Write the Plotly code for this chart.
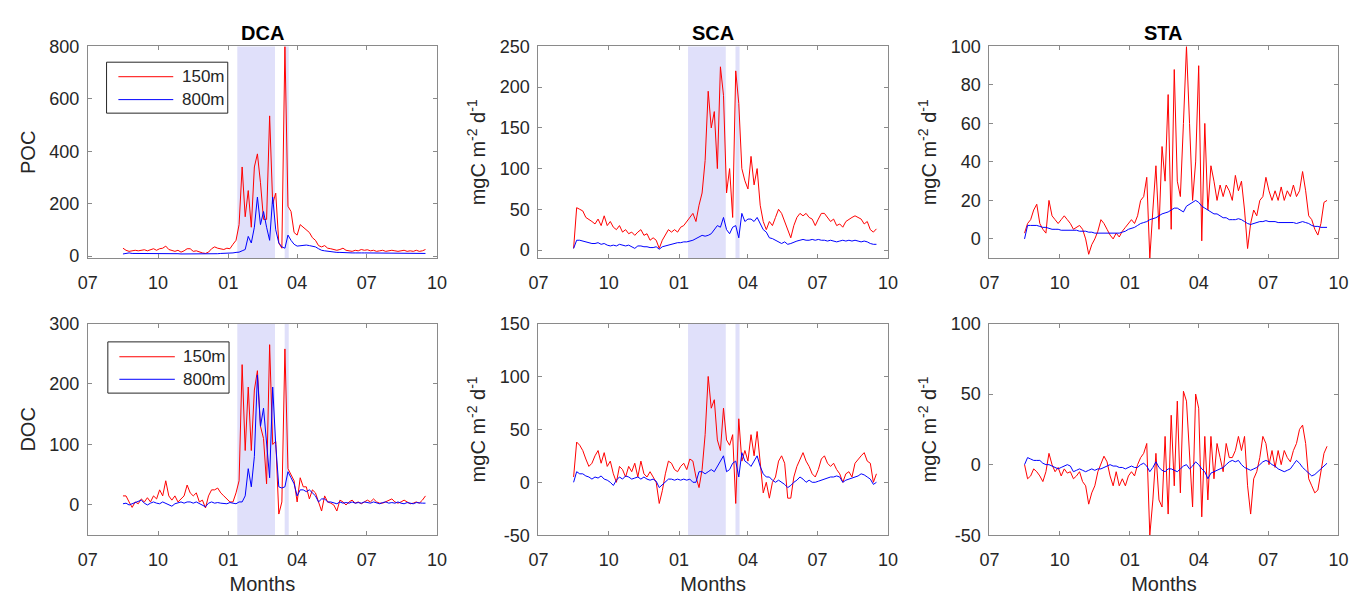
import pandas as pd
import plotly.graph_objects as go
from plotly.subplots import make_subplots

# Sampling dates (every 4 days, mid-August to mid-September of the following year)
dates = pd.date_range("2017-08-16", periods=100, freq="4D")
month_ticks = pd.date_range("2017-07-01", "2018-10-01", freq="3MS")
x_range = ["2017-07-01", "2018-10-01"]

# Shaded event windows
band_start = ["2018-01-12 16:00", "2018-03-15 16:00"]
band_end = ["2018-03-03", "2018-03-21"]

# ---- DCA ----
dca_poc_150 = [
    30, 22, 18, 20, 22, 20, 22, 24, 20, 25,
    28, 22, 28, 30, 38, 25, 20, 18, 22, 15,
    20, 28, 28, 18, 20, 15, 12, 10, 15, 28,
    35, 30, 28, 25, 30, 28, 45, 60, 120, 340,
    150, 250, 110, 340, 390, 280, 140, 140, 535, 200,
    240, 50, 30, 800, 190, 170, 90, 80, 120, 110,
    100, 90, 70, 60, 40, 35, 40, 30, 28, 25,
    22, 25, 30, 22, 20, 18, 22, 20, 25, 22,
    24, 20, 22, 18, 20, 22, 18, 20, 22, 20,
    18, 20, 22, 18, 20, 18, 22, 18, 20, 25,
]
dca_poc_800 = [
    8, 10, 12, 10, 10, 11, 10, 10, 9, 10,
    10, 10, 10, 9, 9, 10, 10, 9, 9, 8,
    8, 9, 9, 8, 8, 8, 8, 7, 8, 8,
    9, 9, 10, 10, 10, 11, 12, 14, 15, 20,
    25, 75, 50, 110, 225, 120, 170, 110, 60, 225,
    100, 50, 35, 30, 80, 60, 45, 38, 40, 40,
    42, 40, 38, 35, 28, 22, 20, 18, 16, 15,
    14, 14, 13, 13, 13, 12, 12, 13, 12, 12,
    12, 12, 11, 12, 11, 11, 12, 11, 11, 11,
    10, 11, 10, 10, 11, 10, 10, 10, 10, 10,
]
dca_doc_150 = [
    15, 15, 5, -4, 5, 2, 10, 5, 12, 5,
    15, 10, 25, 15, 40, 15, 8, 15, 5, 10,
    15, 33, 20, 15, 20, 5, 8, -5, 15, 25,
    25, 28, 20, 15, 10, 5, 5, 20, 40, 232,
    90, 195, 90, 190, 222, 130, 110, 35, 265, 100,
    105, -15, 5, 258, 60, 50, 40, 5, 45, 30,
    30, 10, 25, 20, 5, -10, 15, 5, 3, 0,
    -10, 8, 5, 0, 5, 8, 3, 5, 2, 5,
    8, 5, 10, 5, 3, 3, 5, 8, 10, 5,
    3, 5, 8, 5, 2, 3, 5, 3, 8, 15,
]
dca_doc_800 = [
    2, 3, 0, 2, 3, 5, 8, 3, 0, 3,
    5, 3, 2, 5, 3, 0, -2, 2, 3, 5,
    3, 5, 5, 3, 5, 2, 0, -3, 3, 5,
    3, 4, 3, 3, 2, 4, 3, 2, 5, 5,
    15, 60, 30, 80, 215, 130, 160, 100, 45, 195,
    100, 30, 28, 30, 55, 45, 35, 15, 25, 25,
    22, 25, 20, 15, 5, 10, 10, 5, 5, 3,
    2, 5, 3, 4, 3, 5, 3, 4, 3, 5,
    4, 3, 5, 3, 2, 4, 5, 3, 4, 3,
    5, 3, 2, 4, 3, 2, 4, 3, 3, 3,
]

# ---- SCA ----
sca_poc_150 = [
    2, 52, 50, 48, 40, 38, 35, 32, 38, 30,
    42, 30, 35, 28, 25, 30, 22, 25, 20, 22,
    18, 22, 25, 18, 20, 12, 15, 12, 2, 12,
    18, 25, 22, 25, 22, 28, 30, 35, 40, 45,
    35, 55, 70, 110, 195, 150, 170, 100, 225, 190,
    70, 100, 40, 220, 180, 100, 85, 75, 115, 80,
    100, 55, 35, 25, 35, 30, 40, 50, 45, 35,
    25, 15, 30, 40, 45, 42, 45, 40, 38, 30,
    38, 45, 45, 40, 35, 38, 30, 32, 28, 35,
    38, 40, 42, 40, 38, 32, 35, 25, 22, 26,
]
sca_poc_800 = [
    2, 12, 12, 11, 10, 9, 8, 8, 9, 7,
    8, 6, 5, 6, 5, 7, 6, 5, 6, 4,
    2, 5, 5, 4, 4, 3, 3, 4, 1, 4,
    5, 6, 7, 8, 9, 9, 10, 10, 11, 12,
    14, 16, 18, 17, 18, 20, 25, 30, 28, 40,
    25, 20, 28, 30, 15, 45, 35, 38, 38, 35,
    40, 32, 25, 22, 15, 14, 12, 10, 8, 10,
    7, 8, 10, 11, 12, 13, 12, 12, 13, 12,
    13, 12, 12, 11, 12, 11, 10, 11, 12, 11,
    12, 11, 12, 11, 10, 11, 10, 8, 7, 7,
]
sca_doc_150 = [
    5, 38, 35, 30, 22, 15, 18, 25, 30, 18,
    28, 15, 20, 8, 0, 15, 12, 5, 15, 10,
    18, 5, 20, 8, 5, 10, 5, 0, -20, -8,
    8, 20, 18, 12, 10, 15, 18, 12, 22, 20,
    5, -5, 12, 45, 100, 70, 78, 40, 30, 70,
    40, 35, 45, -20, 60, 20, 30, 20, 45, 25,
    48, 15, -10, 0, -15, 0, 5, 20, 25, 18,
    -15, -15, 5, 15, 22, 28, 20, 15, 8, 5,
    12, 22, 25, 18, 15, 18, 12, 8, 0, 8,
    10, 5, 18, 22, 25, 28, 20, 18, 0, 8,
]
sca_doc_800 = [
    0, 10, 8, 8, 6, 5, 3, 5, 4, 6,
    3, 2, 0, -3, 2, 5, 3, 6, 5, 3,
    4, 5, 3, 5, 3, 2, 3, 1, -5, -2,
    0, 3, 3, 2, 3, 2, 3, 2, 3, 0,
    0, 10, 10, 8, 10, 12, 10, 15, 20, 25,
    10, 12, 18, 20, 5, 28, 20, 18, 15, 20,
    25, 15, 8, 5, 5, 2, 0, 2, 0, -2,
    -5, -3, 0, 2, 5, 3, 0, 2, 0, 0,
    1, 2, 3, 4, 5, 5, 6, 5, 0, 2,
    3, 4, 5, 6, 8, 7, 5, 3, -2, 0,
]

# ---- STA ----
sta_poc_150 = [
    3, 8, 10, 15, 18, 8, 5, 3, 20, 12,
    10, 8, 10, 12, 10, 8, 5, 6, 7, 5,
    0, -8, -3, 0, 4, 10, 8, 5, 2, 0,
    3, 1, 4, 6, 8, 10, 8, 12, 20, 22,
    32, -10, 15, 38, 5, 48, 30, 75, 5, 88,
    30, 22, 60, 100, 60, 20, 40, 90, -1, 60,
    15, 38, 30, 20, 28, 22, 28, 25, 20, 33,
    25, 30, 15, -5, 8, 15, 12, 20, 22, 32,
    25, 20, 25, 20, 27, 20, 25, 22, 28, 22,
    25, 35, 25, 12, 10, 5, 2, 8, 19, 20,
]
sta_poc_800 = [
    0, 7, 7, 7, 7, 6.5, 6, 6, 5.5, 5,
    5, 5, 4.5, 4.5, 4.5, 4.5, 4.5, 4.5, 4, 4,
    4, 3.5, 3.5, 3, 3, 3, 3, 3, 3, 3,
    3, 3, 3.5, 4, 5, 5.5, 6, 7, 8, 8.5,
    9, 10, 10.5, 11, 12, 13, 13.5, 14, 15, 16,
    16, 15, 14, 17, 18, 19, 20, 19, 17, 16,
    15, 14, 13, 13, 12, 11, 11, 10, 10, 10,
    10.5, 10, 9, 8, 7.5, 8, 8.5, 9, 9, 9.5,
    9, 9, 9, 8.5, 8.5, 8.5, 8.5, 8.5, 8.5, 8,
    8.5, 9, 8.5, 8, 7, 6.5, 6.5, 6, 6, 6,
]
sta_doc_150 = [
    0, -10, -8, -3, -5, -8, -12, -5, 8, 0,
    -5, -2, -8, -3, -6, -5, -10, -8, -5, -12,
    -15, -28, -20, -15, -5, 0, 6, 2, -8, -15,
    -5, -15, -10, -15, -8, -5, -8, 0, 5, 8,
    15, -50, -25, 8, -25, -30, 20, -35, 35, -15,
    45, -20, 52, 45, 5, -30, 50, 40, -37, 20,
    -25, 20, -10, 15, 5, -5, 15, 5, 5, 10,
    20, 10, 20, -15, -35, -10, -5, 5, 20, 15,
    0, 10, -2, 10, 0, 10, 5, 2, 10, 15,
    25, 28, 15, -10, -15, -20, -18, -5, 8, 13,
]
sta_doc_800 = [
    0, 5, 4, 3, 3, 3, 1, 0, 0, -1,
    -2, -3, -2, -1, 0, -1, -5, -4, -3, -4,
    -5, -4, -3, -4, -3, -3, -2, -1, 0, -1,
    -1, -2, -2, -3, -2, -1, -2, -2, 0, 1,
    -1, -5, -2, 2, -2, -4, -5, -3, -3, -4,
    -5, -3, -1, 0, -3, -1, 2, 0, -3, -5,
    -10, -6, -5, -4, -3, -2, 0, 2, 3, 2,
    3, 0, -2, -3, -4, -3, -2, 0, 2, 3,
    2, 0, -1, -3, -4, -5, -4, -3, 0, 3,
    1, -2, -4, -6, -8, -7, -5, -3, -1, 1,
]

panel_titles = ["DCA", "SCA", "STA"]
row_labels = ["POC", "DOC"]
flux_unit = "mgC m<sup>-2</sup> d<sup>-1</sup>"
depth_names = ["150m", "800m"]
line_colors = ["#ff0000", "#0000ff"]

series = {
    (1, 1): (dca_poc_150, dca_poc_800),
    (1, 2): (sca_poc_150, sca_poc_800),
    (1, 3): (sta_poc_150, sta_poc_800),
    (2, 1): (dca_doc_150, dca_doc_800),
    (2, 2): (sca_doc_150, sca_doc_800),
    (2, 3): (sta_doc_150, sta_doc_800),
}
y_ranges = {
    (1, 1): [-8, 800], (1, 2): [-10, 250], (1, 3): [-10, 100],
    (2, 1): [-50, 300], (2, 2): [-50, 150], (2, 3): [-50, 100],
}
y_ticks = {
    (1, 1): [0, 200, 400, 600, 800],
    (1, 2): [0, 50, 100, 150, 200, 250],
    (1, 3): [0, 20, 40, 60, 80, 100],
    (2, 1): [0, 100, 200, 300],
    (2, 2): [-50, 0, 50, 100, 150],
    (2, 3): [-50, 0, 50, 100],
}
shaded_cols = [1, 2]

# ---- page geometry (pixels) ----
FIG_W, FIG_H = 1361, 601


def px_x(x):
    return x / FIG_W


def px_y(y):
    return 1 - y / FIG_H


col_px = [(79, 433.3), (536.3, 891), (994, 1348.3)]
row_px = [(37.7, 256.7), (324.3, 543.3)]
col_domains = [[px_x(a), px_x(b)] for a, b in col_px]
row_domains = [[px_y(b), px_y(a)] for a, b in row_px]

FONT = "Liberation Sans, Arial, Helvetica, sans-serif"
TEXT = "#262626"
FRAME = "#8a8a8a"

fig = make_subplots(rows=2, cols=3)

for (r, c), (s150, s800) in series.items():
    for name, vals, color in zip(depth_names, (s150, s800), line_colors):
        fig.add_trace(
            go.Scatter(x=dates, y=vals, mode="lines", name=name,
                       line=dict(color=color, width=1), showlegend=False),
            row=r, col=c,
        )
    if c in shaded_cols:
        for x0, x1 in zip(band_start, band_end):
            fig.add_vrect(x0=x0, x1=x1, fillcolor="rgb(224,224,250)", opacity=1,
                          line_width=0, layer="below", row=r, col=c)

    ticks = y_ticks[(r, c)]
    ytitle = row_labels[r - 1] if c == 1 else flux_unit
    fig.update_yaxes(
        range=y_ranges[(r, c)], tickmode="array", tickvals=ticks,
        ticktext=[str(t) for t in ticks], domain=row_domains[r - 1],
        showline=True, linecolor=FRAME, linewidth=1, mirror="ticks",
        ticks="inside", ticklen=4, tickcolor=FRAME, showgrid=False, zeroline=False,
        tickfont=dict(size=18, color=TEXT, family=FONT),
        ticklabelstandoff=4,
        title=dict(text=ytitle, font=dict(size=20, color=TEXT, family=FONT), standoff=8),
        row=r, col=c,
    )
    fig.update_xaxes(
        type="date", range=x_range, tickvals=month_ticks, tickformat="%m",
        domain=col_domains[c - 1],
        showline=True, linecolor=FRAME, linewidth=1, mirror="ticks",
        ticks="inside", ticklen=4, tickcolor=FRAME, showgrid=False, zeroline=False,
        tickfont=dict(size=18, color=TEXT, family=FONT),
        ticklabelstandoff=8,
        title=dict(text="Months" if r == 2 else "", font=dict(size=20, color=TEXT, family=FONT), standoff=8),
        row=r, col=c,
    )

for c, title in enumerate(panel_titles):
    d = col_domains[c]
    fig.add_annotation(
        text="<b>" + title + "</b>", x=(d[0] + d[1]) / 2, y=px_y(23.7),
        xref="paper", yref="paper", xanchor="center", yanchor="middle",
        showarrow=False, font=dict(size=20, color="#000000", family=FONT),
    )

# Legend boxes (one per DCA panel): frame, key lines and labels
legend_boxes = [
    dict(box=(98, 54, 221, 106.7), rows=(69, 92.7), line=(110, 165.7), text_x=173),
    dict(box=(99.3, 343.3, 222.3, 396.3), rows=(358.7, 382), line=(111, 167.3), text_x=174),
]
for lg in legend_boxes:
    x0, y0, x1, y1 = lg["box"]
    fig.add_shape(type="rect", xref="paper", yref="paper",
                  x0=px_x(x0), x1=px_x(x1), y0=px_y(y1), y1=px_y(y0),
                  line=dict(color="#262626", width=1), fillcolor="white", layer="above")
    for name, color, ry in zip(depth_names, line_colors, lg["rows"]):
        fig.add_shape(type="line", xref="paper", yref="paper",
                      x0=px_x(lg["line"][0]), x1=px_x(lg["line"][1]),
                      y0=px_y(ry), y1=px_y(ry),
                      line=dict(color=color, width=1), layer="above")
        fig.add_annotation(text=name, x=px_x(lg["text_x"]), y=px_y(ry),
                           xref="paper", yref="paper", xanchor="left", yanchor="middle",
                           showarrow=False, font=dict(size=17, color=TEXT, family=FONT))

fig.update_layout(
    width=FIG_W, height=FIG_H,
    margin=dict(l=0, r=0, t=0, b=0),
    paper_bgcolor="white", plot_bgcolor="white",
    font=dict(family=FONT, color=TEXT),
    showlegend=False,
)

# Let the figure sit flush against the page edges
page_reset = (
    "document.documentElement.style.margin='0';"
    "document.body.style.margin='0';"
    "document.documentElement.style.overflow='hidden';"
)
fig.write_html("out.html", config={"displayModeBar": False}, post_script=page_reset)
